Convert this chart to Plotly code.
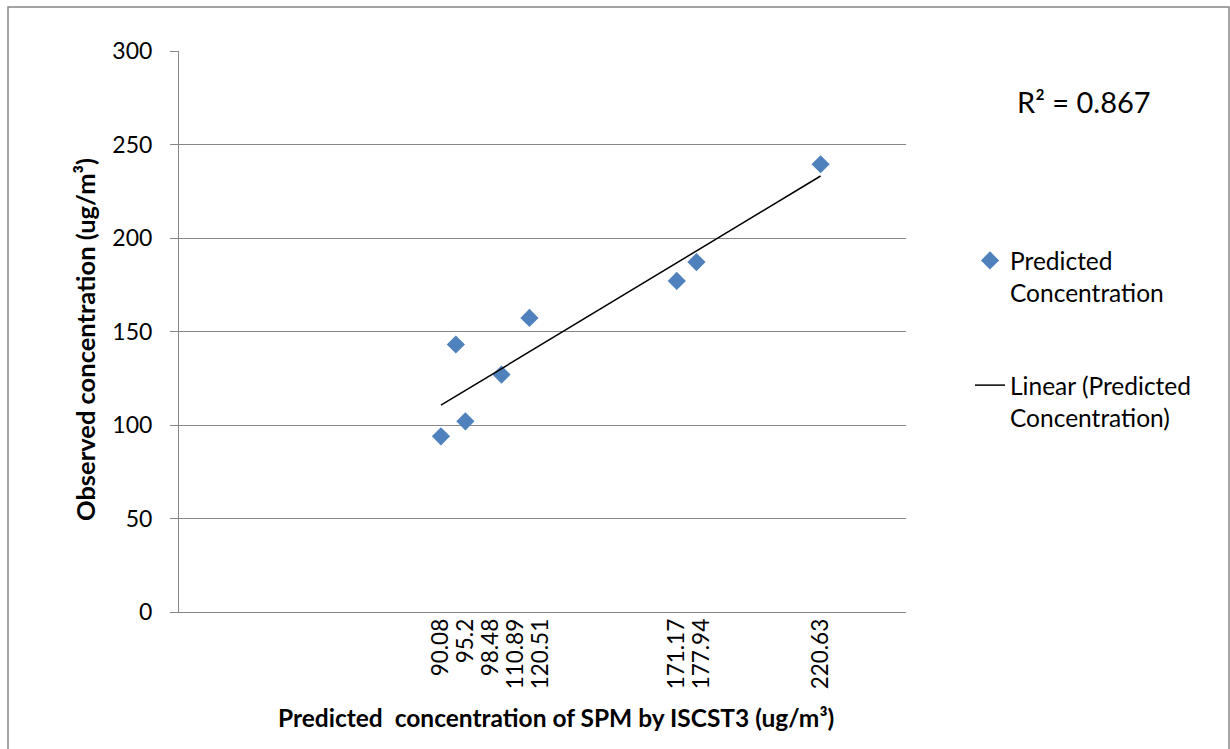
import numpy as np
import plotly.graph_objects as go

# Data
predicted = [90.08, 95.2, 98.48, 110.89, 120.51, 171.17, 177.94, 220.63]
observed = [94.1, 143.2, 102.1, 127.1, 157.4, 177.2, 187.3, 239.6]
x_tick_labels = ["90.08", "95.2", "98.48", "110.89", "120.51", "171.17", "177.94", "220.63"]
y_ticks = [0, 50, 100, 150, 200, 250, 300]
r2_text = "R² = 0.867"

# Linear trendline from the data
slope, intercept = np.polyfit(predicted, observed, 1)
trend_x = [min(predicted), max(predicted)]
trend_y = [slope * v + intercept for v in trend_x]

W, H = 1230, 749
FONT = "Lato, 'Open Sans', sans-serif"
GRID = "#868686"
X_RANGE = [0, 250]
PLOT_L, PLOT_R = 179, 906

def px(x):
    return x / W

def py(y):
    return 1 - y / H

# Spread crowded tick labels apart (greedy, left to right) like the original
units_per_px = (X_RANGE[1] - X_RANGE[0]) / (PLOT_R - PLOT_L)
min_gap = 25 * units_per_px
label_pos = []
for v in sorted(predicted):
    if label_pos and v < label_pos[-1] + min_gap:
        label_pos.append(label_pos[-1] + min_gap)
    else:
        label_pos.append(v)

fig = go.Figure()
fig.add_trace(go.Scatter(
    x=predicted, y=observed, mode="markers",
    name="Predicted<br>Concentration",
    marker=dict(symbol="diamond", size=14, color="#4F81BD"),
    legendgroup="a",
))
fig.add_trace(go.Scatter(
    x=trend_x, y=trend_y, mode="lines",
    name="Linear (Predicted<br>Concentration)",
    line=dict(color="black", width=1.5),
    legendgroup="b",
))
# invisible helper trace so the label axis is drawn
fig.add_trace(go.Scatter(
    x=[predicted[0]], y=[observed[0]], xaxis="x2", mode="markers",
    marker=dict(opacity=0), showlegend=False, hoverinfo="skip",
))

fig.update_layout(
    width=W, height=H,
    margin=dict(l=0, r=0, t=0, b=0),
    paper_bgcolor="white", plot_bgcolor="white",
    font=dict(family=FONT, size=22, color="black"),
    xaxis=dict(
        domain=[px(PLOT_L), px(PLOT_R)], range=X_RANGE, automargin=False,
        tickmode="array", tickvals=predicted, showticklabels=False,
        showgrid=False, zeroline=False,
        showline=True, linecolor=GRID, linewidth=1, ticks="",
    ),
    xaxis2=dict(
        domain=[px(PLOT_L), px(PLOT_R)], range=X_RANGE, automargin=False,
        overlaying="x", anchor="y", side="bottom",
        tickmode="array", tickvals=label_pos, ticktext=x_tick_labels,
        tickangle=-90, showgrid=False, zeroline=False, showline=False,
        ticks="", tickfont=dict(size=22.5), ticklabelstandoff=1,
    ),
    yaxis=dict(
        domain=[py(612.3), py(51.3)], range=[0, 300], automargin=False,
        tickmode="array", tickvals=y_ticks,
        showgrid=True, gridcolor=GRID, gridwidth=1, zeroline=False,
        showline=True, linecolor=GRID, linewidth=1,
        ticks="outside", ticklen=8, tickcolor=GRID, tickfont=dict(size=23),
        ticklabelstandoff=13,
    ),
    legend=dict(
        x=px(970), y=py(238), xanchor="left", yanchor="top",
        traceorder="grouped", tracegroupgap=58, valign="top",
        font=dict(size=24.5), bgcolor="rgba(0,0,0,0)",
    ),
    showlegend=True,
)

fig.add_annotation(
    x=px(1084), y=py(101), xref="paper", yref="paper",
    text=r2_text, showarrow=False, font=dict(size=29),
    xanchor="center", yanchor="middle",
)
fig.add_annotation(
    x=px(556), y=py(717), xref="paper", yref="paper",
    text="<b>Predicted  concentration of SPM by ISCST3 (ug/m³)</b>",
    showarrow=False, font=dict(size=24.5), xanchor="center", yanchor="middle",
)
fig.add_annotation(
    x=px(85), y=py(340), xref="paper", yref="paper",
    text="<b>Observed concentration (ug/m³)</b>", textangle=-90,
    showarrow=False, font=dict(size=25.5), xanchor="center", yanchor="middle",
)
# Outer chart frame
fig.add_shape(type="rect", xref="paper", yref="paper",
              x0=px(8), x1=px(1229), y0=py(760), y1=py(7),
              line=dict(color="#868686", width=1.5), fillcolor="rgba(0,0,0,0)")

fig.write_html("out.html")
